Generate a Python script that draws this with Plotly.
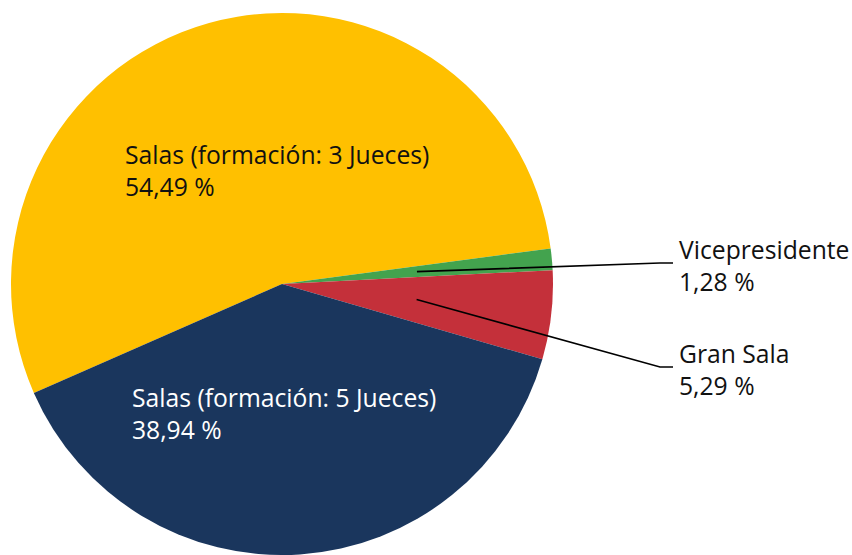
import math
import plotly.graph_objects as go

# ---- data ----
labels = ["Salas (formación: 3 Jueces)", "Vicepresidente", "Gran Sala", "Salas (formación: 5 Jueces)"]
values = [54.49, 1.28, 5.29, 38.94]
colors = ["#FFC000", "#43A34E", "#C4303A", "#1A365D"]

W, H = 852, 555
CX, CY, R = 282.0, 284.0, 271.0   # pie centre / radius in pixels
ROTATION = -113.7                # start angle of first slice (clockwise from 12 o'clock)
FONT = "Open Sans"
FS = 24.7


def fmt(v):
    return f"{v:.2f}".replace(".", ",") + " %"


def px(x):
    return x / W


def py(y):
    return 1 - y / H


def clamp(v):
    return min(1.0, max(0.0, v))


fig = go.Figure(go.Pie(
    labels=labels,
    values=values,
    sort=False,
    direction="clockwise",
    rotation=ROTATION,
    marker=dict(colors=colors, line=dict(width=0)),
    textinfo="none",
    hoverinfo="label+percent",
    showlegend=False,
    domain=dict(x=[clamp(px(CX - R)), clamp(px(CX + R))],
                y=[clamp(py(CY + R)), clamp(py(CY - R))]),
))

# slice mid angles (screen, clockwise from 12 o'clock) computed from values
total = sum(values)
mid = []
acc = ROTATION
for v in values:
    ang = v / total * 360
    mid.append(acc + ang / 2)
    acc += ang


def polar(angle_deg, r):
    a = math.radians(angle_deg)
    return CX + r * math.sin(a), CY - r * math.cos(a)


annotations = []
shapes = []

# inside labels
inside = {0: (123, 136, "#111111"), 3: (130, 379, "#FFFFFF")}
for i, (x, ytop, col) in inside.items():
    annotations.append(dict(
        x=px(x), y=py(ytop), xref="paper", yref="paper",
        xanchor="left", yanchor="top", align="left", showarrow=False,
        text=f"{labels[i]}<br>{fmt(values[i])}",
        font=dict(family=FONT, size=FS, color=col),
    ))

# outside labels with leader lines
outside = {1: (680, 263), 2: (680, 367)}
for i, (x, yline) in outside.items():
    sx, sy = polar(mid[i], R * 0.5)
    path = (f"M {px(sx)},{py(sy)} L {px(x - 20)},{py(yline)} "
            f"L {px(x - 7)},{py(yline)}")
    shapes.append(dict(type="path", xref="paper", yref="paper", path=path,
                       line=dict(color="#000000", width=1.6)))
    annotations.append(dict(
        x=px(x - 3), y=py(yline - 32), xref="paper", yref="paper",
        xanchor="left", yanchor="top", align="left", showarrow=False,
        text=f"{labels[i]}<br>{fmt(values[i])}",
        font=dict(family=FONT, size=FS, color="#111111"),
    ))

fig.update_layout(
    width=W, height=H,
    margin=dict(l=0, r=0, t=0, b=0),
    paper_bgcolor="white", plot_bgcolor="white",
    annotations=annotations, shapes=shapes,
    font=dict(family=FONT),
)

fig.write_html("out.html", config={"displayModeBar": False},
               post_script="document.body.style.margin='0';document.body.style.overflow='hidden';")
